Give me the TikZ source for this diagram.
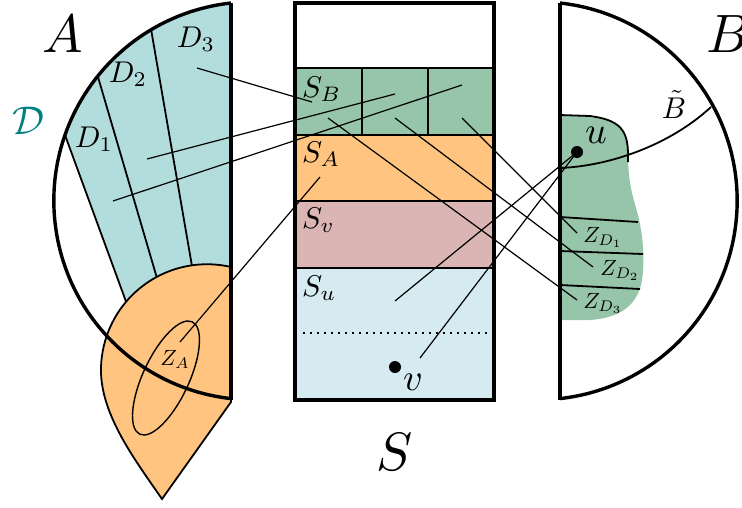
\documentclass[tikz,border=0pt]{standalone}
\usepackage{graphicx}
\definecolor{regD}{RGB}{179,221,221}
\definecolor{regB}{RGB}{150,197,170}
\definecolor{regA}{RGB}{255,196,128}
\definecolor{regV}{RGB}{219,180,180}
\definecolor{regU}{RGB}{214,234,241}
\definecolor{calD}{RGB}{0,128,128}
\newcommand{\bigtxt}[1]{\scalebox{5.4}{#1}}
\newcommand{\labtxt}[1]{\scalebox{3.0}{#1}}
\newcommand{\pttxt}[1]{\scalebox{3.8}{#1}}
\newcommand{\ztxt}[1]{\scalebox{2.2}{#1}}
\tikzset{
  rim/.style={line width=3.4pt},
  wall/.style={line width=4.2pt},
  part/.style={line width=1.8pt},
  link/.style={line width=1.2pt},
  dotnode/.style={circle, fill=black, inner sep=0pt, minimum size=12pt},
  lab/.style={inner sep=0pt, anchor=base}
}
\begin{document}
\begin{tikzpicture}[x=1pt, y=1pt, yscale=-1]
    \useasboundingbox (0,0) rectangle (742,507);

    % Region A with the pieces D_1, D_2, D_3
    \fill[regD] (65,135) arc[start angle=199.5, end angle=263.7, radius=199pt]
        -- (231,300) -- (126,302) -- cycle;
    \draw[part] (65,135) -- (128,307);
    \draw[part] (98,77) -- (159,285);
    \draw[part] (151,29) -- (193,272);

    % Orange drop with the ellipse Z_A
    \filldraw[fill=regA, part] (231,267) arc[start angle=-76.9, end angle=-180, radius=106pt]
        .. controls (101,415) and (135,460) .. (162,499) -- (231,402) -- cycle;
    \draw[line width=1.4pt, rotate around={-65:(166,378)}] (166,378) ellipse (62pt and 23pt);

    % Outline of A
    \draw[rim] (231,3) arc[start angle=263.7, end angle=96.3, radius=199pt];
    \draw[wall] (231,3) -- (231,400);

    % The column S
    \fill[regB] (295,68) rectangle (494,135);
    \fill[regA] (295,135) rectangle (494,201);
    \fill[regV] (295,201) rectangle (494,268);
    \fill[regU] (295,268) rectangle (494,400);
    \draw[part] (295,68) -- (494,68);
    \draw[part] (295,135) -- (494,135);
    \draw[part] (295,201) -- (494,201);
    \draw[part] (295,268) -- (494,268);
    \draw[part] (362,68) -- (362,135);
    \draw[part] (428,68) -- (428,135);
    \draw[line width=2pt, dash pattern=on 2pt off 5pt] (303,333) -- (492,333);
    \draw[rim] (295,3) rectangle (494,400);

    % Region B with B tilde and the green set
    \fill[regB] (560,115) -- (590,116) .. controls (620,120) and (628,130) .. (628,155)
        .. controls (628,185) and (634,200) .. (638,215)
        .. controls (643,235) and (645,260) .. (642,280)
        .. controls (638,305) and (620,318) .. (590,320) -- (560,320) -- cycle;
    \draw[part] (560,115) -- (590,116) .. controls (620,120) and (628,130) .. (628,155) -- (628,162);
    \draw[part] (560,168) .. controls (610,166) and (670,145) .. (711,107);
    \draw[part] (560,217) -- (638,222);
    \draw[part] (560,251) -- (643,254);
    \draw[part] (560,285) -- (640,289);
    \draw[rim] (560,3) arc[start angle=-83.7, end angle=83.7, radius=199pt];
    \draw[wall] (560,3) -- (560,400);

    % Labels
    \node[lab] (labA) at (63,52) {\bigtxt{$A$}};
    \node[lab, anchor=base west] (labB) at (706,52) {\bigtxt{$B$}};
    \node[lab] (labS) at (395,470) {\bigtxt{$S$}};
    \node[lab, text=calD] (labcalD) at (28,134) {\scalebox{4.0}{$\mathcal{D}$}};
    \node[lab] (labD1) at (94,147) {\labtxt{$D_1$}};
    \node[lab] (labD2) at (128,82) {\labtxt{$D_2$}};
    \node[lab] (labD3) at (196,47) {\labtxt{$D_3$}};
    \node[lab, anchor=base west] (labSB) at (302,97) {\labtxt{$S_B$}};
    \node[lab, anchor=base west] (labSA) at (302,162) {\labtxt{$S_A$}};
    \node[lab, anchor=base west] (labSv) at (302,228) {\labtxt{$S_v$}};
    \node[lab, anchor=base west] (labSu) at (302,296) {\labtxt{$S_u$}};
    \node[lab] (labBt) at (674,118) {\labtxt{$\tilde{B}$}};
    \node[lab] (labu) at (596,143) {\pttxt{$u$}};
    \node[lab] (labv) at (413,390) {\pttxt{$v$}};
    \node[lab] (labZA) at (175,365) {\ztxt{$Z_A$}};
    \node[lab] (labZD1) at (603,242) {\ztxt{$Z_{D_1}$}};
    \node[lab] (labZD2) at (620,275) {\ztxt{$Z_{D_2}$}};
    \node[lab] (labZD3) at (603,308) {\ztxt{$Z_{D_3}$}};

    % Points u and v
    \node[dotnode] (udot) at (577,152) {};
    \node[dotnode] (vdot) at (395,367) {};

    % Ends of the connectors
    \coordinate (d3) at (197,68);
    \coordinate (d2) at (147,159);
    \coordinate (d1) at (113,201);
    \coordinate (za) at (180,342);
    \coordinate (sb1) at (312,102);
    \coordinate (sb2) at (395,94);
    \coordinate (sb3) at (462,85);
    \coordinate (sa) at (320,177);
    \coordinate (cb1) at (328,118);
    \coordinate (cb2) at (395,118);
    \coordinate (cb3) at (462,118);
    \coordinate (zd1) at (577,233);
    \coordinate (zd2) at (593,267);
    \coordinate (zd3) at (577,300);
    \coordinate (su) at (395,301);
    \coordinate (sv) at (420,358);

    % Connectors
    \draw[link] (d3) -- (sb1);
    \draw[link] (d2) -- (sb2);
    \draw[link] (d1) -- (sb3);
    \draw[link] (za) -- (sa);
    \draw[link] (cb1) -- (zd3);
    \draw[link] (cb2) -- (zd2);
    \draw[link] (cb3) -- (zd1);
    \draw[link] (su) -- (udot.center);
    \draw[link] (sv) -- (udot.center);
\end{tikzpicture}
\end{document}
